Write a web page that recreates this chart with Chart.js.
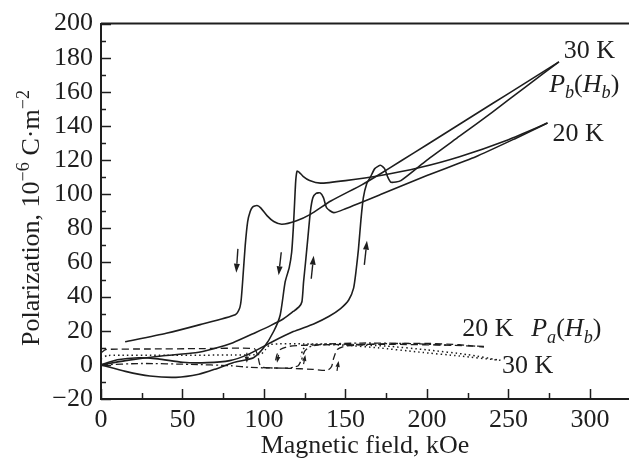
<!DOCTYPE html>
<html>
<head>
<meta charset="utf-8">
<script src="https://cdn.jsdelivr.net/npm/chart.js@4.4.1/dist/chart.umd.min.js"></script>
<style>
  html, body { margin: 0; padding: 0; background: #fff; }
  #wrap { width: 629px; height: 465px; }
</style>
</head>
<body>
<div id="wrap"><canvas id="polarizacion" width="629" height="465"></canvas></div>
<script>
// P_b(H_b) a 30 K: subida y bajada del campo
var b30upH = [0, 10, 23, 35, 50, 65, 79, 90, 104, 118, 130.5, 140, 147, 152, 155, 156.5, 158, 159.5, 161, 163, 165.3, 168, 171.5, 174, 176, 178, 184, 200, 220, 240, 260, 281];
var b30upP = [0, 3, 4.2, 3.5, 1.5, 1.3, 2.5, 6, 13, 19.5, 24, 28.5, 33, 38, 45, 55, 68, 85, 98, 106, 110, 115, 117, 115, 110, 107, 108, 120, 134, 148, 162.5, 177.6];
var b30dnH = [281, 260, 240, 220, 200, 184, 171.5, 160, 141, 128.5, 120, 111, 106, 102, 98, 95.7, 93, 91.6, 90, 88.5, 87, 86, 85, 82.4, 60.8, 40, 14.8];
var b30dnP = [177.6, 165, 153, 141, 129, 119.5, 112, 105.5, 96, 88.2, 84.5, 82.4, 84, 87.3, 92, 93.4, 92.5, 90, 84, 70, 50, 38, 33, 29.4, 23.6, 18.5, 13.5];

// P_b(H_b) a 20 K
var b20upH = [0, 15, 37, 58, 69, 81, 95, 104, 112, 118, 121.5, 123.3, 124.3, 125.5, 127, 128.5, 130, 132, 134.5, 136.5, 138.5, 142.8, 150, 171.5, 200, 230, 255, 274];
var b20upP = [0, 2.5, 5.2, 7.1, 9.5, 13, 19, 23, 27, 31.3, 34, 37, 48.6, 60, 75, 90, 98, 100.5, 100.8, 98, 92, 89.2, 91.5, 99.8, 111, 122, 133, 141.7];
var b20dnH = [274, 250, 220, 195, 171.5, 150, 134.6, 128, 124, 121.5, 120.3, 119.5, 118.8, 118, 117, 115.5, 113, 110, 106, 99.8, 93.6, 81, 70, 60, 46, 30, 15, 0];
var b20dnP = [141.7, 132, 122, 115.5, 111, 108, 106.5, 108, 110.5, 113, 113.5, 108, 95, 80, 66, 57, 48.6, 29.4, 19.7, 10, 4.2, 1.3, -2.5, -5.5, -7.3, -6.5, -3.8, 0];

// P_a(H_b)
var a20upH = [0, 3, 30, 60, 94, 96, 97.5, 99, 115, 130, 139, 141.5, 142.8, 145, 150, 170, 200, 220, 235];
var a20upP = [7, 9, 9.3, 9.5, 9.5, 6, 0, -1.5, -2, -2.6, -3.2, -1, 4, 9, 11, 12.3, 12.6, 11.8, 10.4];
var a20dnH = [235, 210, 180, 150, 125, 115, 110, 108, 107];
var a20dnP = [10.8, 11.6, 12, 12, 11.5, 10.8, 9, 6, 2];
var a30upH = [0, 4, 40, 80, 98, 101, 104, 125, 150, 175, 200, 225, 245];
var a30upP = [3.5, 5.5, 5.6, 5.8, 6.2, 9, 12, 12.3, 12, 11, 8.8, 6, 2.7];
var a30dnH = [245, 220, 195, 170, 150, 132, 126, 124, 122.5];
var a30dnP = [2.7, 5.2, 7.5, 10, 11.5, 12, 11.5, 9, 5];
var aMixH = [0, 25, 55, 80, 92, 104, 116, 121, 123, 125, 128, 135, 160, 190, 215];
var aMixP = [0, 0.8, 0.3, -0.5, -1.5, -1.8, -1.8, -0.5, 3, 8, 10.5, 12, 12.8, 12.5, 11.5];

// flechas de sentido de barrido [H1, P1, H2, P2]
var flechasGrandes = [[84, 68, 83, 54], [110.6, 66, 109, 52.5], [129, 50.5, 130.5, 64], [161.6, 58.6, 163.2, 72.8]];
var flechasChicas = [[89.5, 7.1, 89.5, 1.3], [109, 5.8, 108, 1.3], [124.3, 0.4, 125.4, 5.8], [144.8, -3.5, 145.8, 2.3]];

var ticksX = [0, 25, 50, 75, 100, 125, 150, 175, 200, 225, 250, 275, 300];
var ticksY = [-20, -10, 0, 10, 20, 30, 40, 50, 60, 70, 80, 90, 100, 110, 120, 130, 140, 150, 160, 170, 180, 190, 200];

var serif = "'Liberation Serif', 'Times New Roman', serif";
var tinta = '#1e1e1e';

function puntos(h, p) {
    return h.map(function (v, i) { return { x: v, y: p[i] }; });
}

function curva(h, p, dash, width) {
    return {
        data: puntos(h, p),
        showLine: true,
        borderColor: tinta,
        borderWidth: width || 1.6,
        borderDash: dash || [],
        pointRadius: 0,
        tension: 0.2,
        fill: false
    };
}

function textoRico(ctx, x, y, partes, size) {
    var cx = x;
    partes.forEach(function (p) {
        var s = p.sub || p.sup ? size * 0.7 : size;
        ctx.font = (p.it ? 'italic ' : '') + s + 'px ' + serif;
        var dy = p.sub ? size * 0.25 : (p.sup ? -size * 0.4 : 0);
        ctx.fillText(p.t, cx, y + dy);
        cx += ctx.measureText(p.t).width;
    });
    return cx - x;
}

function anchoRico(ctx, partes, size) {
    var w = 0;
    partes.forEach(function (p) {
        var s = p.sub || p.sup ? size * 0.7 : size;
        ctx.font = (p.it ? 'italic ' : '') + s + 'px ' + serif;
        w += ctx.measureText(p.t).width;
    });
    return w;
}

function flecha(ctx, sx, sy, f, cabeza, ancho) {
    var x1 = sx.getPixelForValue(f[0]), y1 = sy.getPixelForValue(f[1]);
    var x2 = sx.getPixelForValue(f[2]), y2 = sy.getPixelForValue(f[3]);
    var ang = Math.atan2(y2 - y1, x2 - x1);
    var bx = x2 - Math.cos(ang) * cabeza, by = y2 - Math.sin(ang) * cabeza;
    ctx.beginPath();
    ctx.moveTo(x1, y1);
    ctx.lineTo(bx, by);
    ctx.stroke();
    ctx.beginPath();
    ctx.moveTo(x2, y2);
    ctx.lineTo(bx + Math.sin(ang) * ancho, by - Math.cos(ang) * ancho);
    ctx.lineTo(bx - Math.sin(ang) * ancho, by + Math.cos(ang) * ancho);
    ctx.closePath();
    ctx.fill();
}

var decoraciones = {
    id: 'decoraciones',
    afterDraw: function (chart) {
        var ctx = chart.ctx, a = chart.chartArea, sx = chart.scales.x, sy = chart.scales.y;
        ctx.save();
        ctx.strokeStyle = tinta;
        ctx.fillStyle = tinta;

        // marco superior
        ctx.lineWidth = 2;
        ctx.beginPath();
        ctx.moveTo(a.left, a.top);
        ctx.lineTo(a.right, a.top);
        ctx.stroke();

        // marcas hacia dentro
        ctx.lineWidth = 1.5;
        sx.ticks.forEach(function (t) {
            var px = Math.round(sx.getPixelForValue(t.value)) + 0.5;
            var len = t.value % 50 === 0 ? 10 : 6;
            ctx.beginPath();
            ctx.moveTo(px, a.bottom);
            ctx.lineTo(px, a.bottom - len);
            ctx.stroke();
        });
        sy.ticks.forEach(function (t) {
            var py = Math.round(sy.getPixelForValue(t.value)) + 0.5;
            var len = t.value % 20 === 0 ? 10 : 5;
            ctx.beginPath();
            ctx.moveTo(a.left, py);
            ctx.lineTo(a.left + len, py);
            ctx.stroke();
        });

        // flechas
        ctx.lineWidth = 1.4;
        flechasGrandes.forEach(function (f) { flecha(ctx, sx, sy, f, 9, 3); });
        ctx.lineWidth = 1.2;
        flechasChicas.forEach(function (f) { flecha(ctx, sx, sy, f, 6, 2.2); });

        // rotulos de las curvas
        ctx.textBaseline = 'alphabetic';
        ctx.textAlign = 'left';
        var size = 26;
        textoRico(ctx, sx.getPixelForValue(284), sy.getPixelForValue(180), [{ t: '30 K' }], size);
        textoRico(ctx, sx.getPixelForValue(275), sy.getPixelForValue(160),
            [{ t: 'P', it: true }, { t: 'b', it: true, sub: true }, { t: '(' }, { t: 'H', it: true }, { t: 'b', it: true, sub: true }, { t: ')' }], size);
        textoRico(ctx, sx.getPixelForValue(277), sy.getPixelForValue(131), [{ t: '20 K' }], size);
        textoRico(ctx, sx.getPixelForValue(221.7), sy.getPixelForValue(16.8), [{ t: '20 K' }], size);
        textoRico(ctx, sx.getPixelForValue(264), sy.getPixelForValue(16.8),
            [{ t: 'P', it: true }, { t: 'a', it: true, sub: true }, { t: '(' }, { t: 'H', it: true }, { t: 'b', it: true, sub: true }, { t: ')' }], size);
        textoRico(ctx, sx.getPixelForValue(246), sy.getPixelForValue(-4.5), [{ t: '30 K' }], size);

        // titulo del eje y con exponentes
        var tituloY = [{ t: 'Polarization, 10' }, { t: '\u22126', sup: true }, { t: ' C\u00b7m' }, { t: '\u22122', sup: true }];
        var w = anchoRico(ctx, tituloY, size);
        ctx.translate(39, 218);
        ctx.rotate(-Math.PI / 2);
        textoRico(ctx, -w / 2, 0, tituloY, size);
        ctx.restore();
    }
};

var ctx = document.getElementById('polarizacion').getContext('2d');
var myChart = new Chart(ctx, {
    type: 'scatter',
    data: {
        datasets: [
            curva(b30upH, b30upP),
            curva(b30dnH, b30dnP),
            curva(b20upH, b20upP),
            curva(b20dnH, b20dnP),
            curva(a20upH, a20upP, [7, 4], 1.3),
            curva(a20dnH, a20dnP, [7, 4], 1.3),
            curva(a30upH, a30upP, [1.5, 3], 1.5),
            curva(a30dnH, a30dnP, [1.5, 3], 1.5),
            curva(aMixH, aMixP, [7, 3, 2, 3], 1.3)
        ]
    },
    options: {
        responsive: false,
        animation: false,
        layout: { padding: { top: 17, right: 0, bottom: 0, left: 0 } },
        plugins: { legend: { display: false }, tooltip: { enabled: false } },
        scales: {
            x: {
                type: 'linear',
                min: 0,
                max: 324,
                afterBuildTicks: function (s) { s.ticks = ticksX.map(function (v) { return { value: v }; }); },
                afterFit: function (s) { s.height = 66; },
                grid: { display: false, drawTicks: false },
                border: { display: true, width: 2, color: tinta },
                ticks: {
                    padding: 6,
                    maxRotation: 0,
                    autoSkip: false,
                    color: tinta,
                    font: { family: serif, size: 26 },
                    callback: function (v) { return v % 50 === 0 ? String(v) : ''; }
                },
                title: {
                    display: true,
                    text: 'Magnetic field, kOe',
                    color: tinta,
                    font: { family: serif, size: 26 },
                    padding: { top: 0, bottom: 3 }
                }
            },
            y: {
                type: 'linear',
                min: -20,
                max: 200,
                afterBuildTicks: function (s) { s.ticks = ticksY.map(function (v) { return { value: v }; }); },
                afterFit: function (s) { s.width = 101; },
                grid: { display: false, drawTicks: false },
                border: { display: true, width: 2, color: tinta },
                ticks: {
                    padding: 8,
                    autoSkip: false,
                    color: tinta,
                    font: { family: serif, size: 26 },
                    callback: function (v) { return v % 20 === 0 ? (v < 0 ? '\u2212' + (-v) : String(v)) : ''; }
                }
            }
        }
    },
    plugins: [decoraciones]
});
</script>
</body>
</html>
